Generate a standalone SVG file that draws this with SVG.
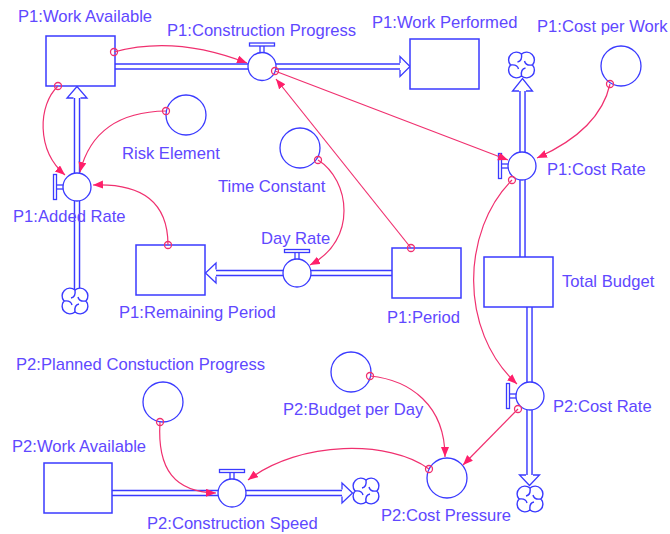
<svg xmlns="http://www.w3.org/2000/svg" width="670" height="534" viewBox="0 0 670 534">
<style>
.stock{fill:#fff;stroke:#3a3aff;stroke-width:1.5}
.conv{fill:#fff;stroke:#3a3aff;stroke-width:1.3}
.lbl{font-family:"Liberation Sans",Arial,sans-serif;font-size:16.6px;fill:#6048ff}
.pipeO{fill:none;stroke:#3a3aff;stroke-width:6.5}
.pipeI{fill:none;stroke:#fff;stroke-width:3.6}
.head{fill:#fff;stroke:#3a3aff;stroke-width:1.3}
.conn{fill:none;stroke:#f0306f;stroke-width:1.2;marker-end:url(#ah)}
.org{fill:none;stroke:#f0306f;stroke-width:1.3}
.cloud{fill:#fff;stroke:#3a3aff;stroke-width:1.4}
</style>
<defs>
<marker id="ah" markerUnits="userSpaceOnUse" markerWidth="12" markerHeight="10" refX="10" refY="4" orient="auto">
<path d="M0,0 L10,4 L0,8 Z" fill="#ff1f6a"/>
</marker>
<g id="valveH">
<rect class="conv" x="-2" y="-21" width="4" height="7.5"/>
<rect class="conv" x="-12.5" y="-23.5" width="25" height="3"/>
<circle class="conv" r="14"/>
</g>
<g id="valveV">
<rect class="conv" x="-21" y="-2" width="7.5" height="4"/>
<rect class="conv" x="-23.5" y="-12.5" width="3" height="25"/>
<circle class="conv" r="14"/>
</g>
<g id="cloudS">
<path class="cloud" d="M0,-11 A7.8,7.8 0 0 1 11,0 A7.8,7.8 0 0 1 0,11 A7.8,7.8 0 0 1 -11,0 A7.8,7.8 0 0 1 0,-11 Z"/>
<path class="cloud" fill="none" d="M0,-11 Q1,-4 -4,-3 M11,0 Q4,1 3,-4 M0,11 Q-1,4 4,3 M-11,0 Q-4,-1 -3,4"/>
</g>
</defs>
<rect width="670" height="534" fill="#fff"/>

<g id="flows">
<path class="pipeO" d="M115,66.5 H400"/><path class="pipeI" d="M114,66.5 H401"/>
<path class="head" d="M400,63 V56.5 L410,66.5 L400,76.5 V70"/>
<path class="pipeO" d="M77,289 V98"/><path class="pipeI" d="M77,290 V97"/>
<path class="head" d="M73.5,98 H67 L77,86.5 L87,98 H80.5"/>
<path class="pipeO" d="M392,273 H216"/><path class="pipeI" d="M393,273 H215"/>
<path class="head" d="M216,269.5 V263 L205.5,273 L216,283 V276.5"/>
<path class="pipeO" d="M522.5,257 V91"/><path class="pipeI" d="M522.5,258 V90"/>
<path class="head" d="M519,91 H512.5 L522.5,78.5 L532.5,91 H526"/>
<path class="pipeO" d="M529.5,307 V475"/><path class="pipeI" d="M529.5,306 V476"/>
<path class="head" d="M526,475 H519.5 L529.5,485.5 L539.5,475 H533"/>
<path class="pipeO" d="M112,493 H342"/><path class="pipeI" d="M111,493 H343"/>
<path class="head" d="M342,489.5 V483 L352.5,493 L342,503 V496.5"/>
</g>

<g id="p1-work-available"><rect class="stock" x="46" y="36" width="69" height="50"/><text class="lbl" x="18" y="22">P1:Work Available</text></g>
<g id="p1-construction-progress"><use href="#valveH" x="262" y="66.5"/><text class="lbl" x="167" y="36">P1:Construction Progress</text></g>
<g id="p1-work-performed"><rect class="stock" x="410" y="39" width="69" height="50"/><text class="lbl" x="372" y="28">P1:Work Performed</text></g>
<g id="p1-cost-per-work"><circle class="conv" cx="621" cy="66" r="20"/><text class="lbl" x="537" y="32">P1:Cost per Work</text></g>
<g id="cloud-top"><use href="#cloudS" x="521.5" y="65"/></g>
<g id="risk-element"><circle class="conv" cx="186" cy="115" r="20"/><text class="lbl" x="122" y="159">Risk Element</text></g>
<g id="p1-cost-rate"><use href="#valveV" x="522" y="166"/><text class="lbl" x="547" y="175">P1:Cost Rate</text></g>
<g id="time-constant"><circle class="conv" cx="300" cy="148" r="20"/><text class="lbl" x="218" y="192">Time Constant</text></g>
<g id="p1-added-rate"><use href="#valveV" x="77" y="187"/><text class="lbl" x="13" y="222">P1:Added Rate</text></g>
<g id="day-rate"><use href="#valveH" x="297" y="273"/><text class="lbl" x="261" y="244">Day Rate</text></g>
<g id="total-budget"><rect class="stock" x="484" y="257" width="69" height="50"/><text class="lbl" x="562" y="287">Total Budget</text></g>
<g id="p1-remaining-period"><rect class="stock" x="136" y="245" width="69" height="50"/><text class="lbl" x="119" y="318">P1:Remaining Period</text></g>
<g id="p1-period"><rect class="stock" x="392" y="248" width="69" height="50"/><text class="lbl" x="387" y="323">P1:Period</text></g>
<g id="cloud-left"><use href="#cloudS" x="75" y="301"/></g>
<g id="p2-planned"><circle class="conv" cx="163" cy="402" r="20"/><text class="lbl" x="16" y="370">P2:Planned Constuction Progress</text></g>
<g id="p2-budget-per-day"><circle class="conv" cx="351" cy="372" r="20"/><text class="lbl" x="283" y="415">P2:Budget per Day</text></g>
<g id="p2-cost-rate"><use href="#valveV" x="530" y="396"/><text class="lbl" x="553" y="412">P2:Cost Rate</text></g>
<g id="p2-work-available"><rect class="stock" x="44" y="463" width="68" height="50"/><text class="lbl" x="12" y="452">P2:Work Available</text></g>
<g id="p2-construction-speed"><use href="#valveH" x="232" y="493"/><text class="lbl" x="147" y="529">P2:Construction Speed</text></g>
<g id="p2-cost-pressure"><circle class="conv" cx="447" cy="478" r="20"/><text class="lbl" x="381" y="521">P2:Cost Pressure</text></g>
<g id="cloud-p2"><use href="#cloudS" x="366" y="491"/></g>
<g id="cloud-bottom"><use href="#cloudS" x="530" y="499"/></g>

<g id="connectors">
<path class="conn" d="M114,52 Q175,35 247,63"/><circle class="org" cx="114" cy="52" r="3.5"/>
<path class="conn" d="M58,86 C38,105 36,150 65,175"/><circle class="org" cx="58" cy="86" r="3.5"/>
<path class="conn" d="M166,111 Q95,112 80,172"/><circle class="org" cx="166" cy="111" r="3.5"/>
<path class="conn" d="M168,245 Q168,182 93,185"/><circle class="org" cx="168" cy="245" r="3.5"/>
<path class="conn" d="M318,160 C350,180 358,240 310,265"/><circle class="org" cx="318" cy="160" r="3.5"/>
<path class="conn" d="M411,248 L276,79"/><circle class="org" cx="411" cy="248" r="3.5"/>
<path class="conn" d="M275,71 L508,160"/><circle class="org" cx="275" cy="71" r="3.5"/>
<path class="conn" d="M610,84 Q600,130 537,158"/><circle class="org" cx="610" cy="84" r="3.5"/>
<path class="conn" d="M512,180 C462,230 458,330 517,384"/><circle class="org" cx="512" cy="180" r="3.5"/>
<path class="conn" d="M518,409 L463,465"/><circle class="org" cx="518" cy="409" r="3.5"/>
<path class="conn" d="M370,376 C410,380 445,405 445,457"/><circle class="org" cx="370" cy="376" r="3.5"/>
<path class="conn" d="M429,469 C390,440 300,440 248,480"/><circle class="org" cx="429" cy="469" r="3.5"/>
<path class="conn" d="M160,422 C157,470 175,492 216,493"/><circle class="org" cx="160" cy="422" r="3.5"/>
</g>
</svg>
